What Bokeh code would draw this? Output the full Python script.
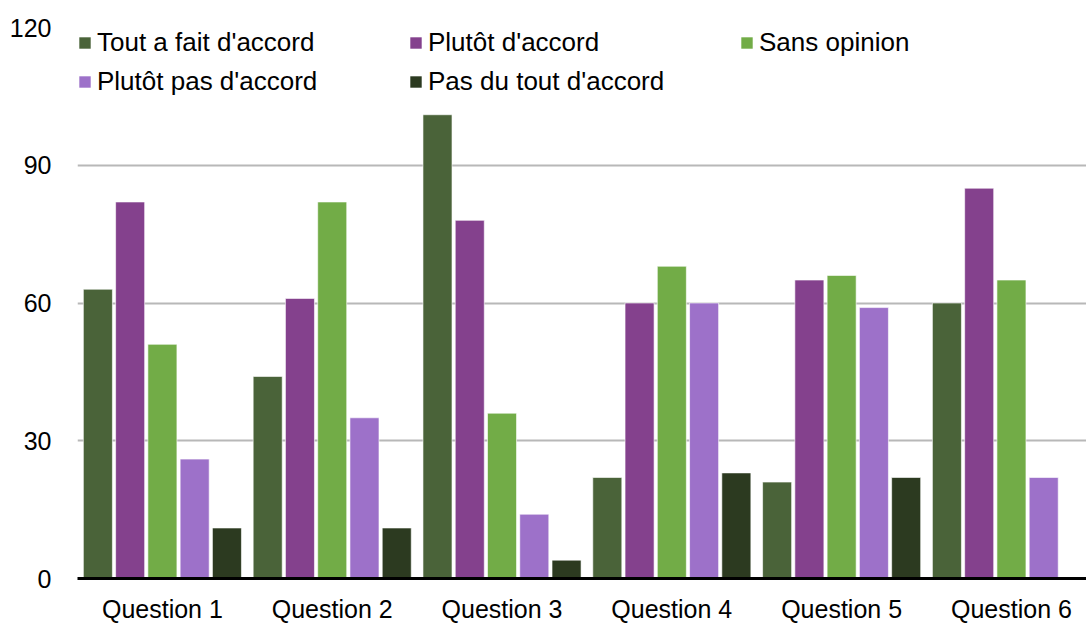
import numpy as np
from bokeh.plotting import figure
from bokeh.models import Legend, LegendItem, ColumnDataSource, FixedTicker, Range1d
from bokeh.embed import file_html
from bokeh.resources import INLINE

questions = ["Question 1", "Question 2", "Question 3", "Question 4", "Question 5", "Question 6"]
series_names = ["Tout a fait d'accord", "Plutôt d'accord", "Sans opinion",
                "Plutôt pas d'accord", "Pas du tout d'accord"]
tout_a_fait = [63, 44, 101, 22, 21, 60]
plutot = [82, 61, 78, 60, 65, 85]
sans_opinion = [51, 82, 36, 68, 66, 65]
plutot_pas = [26, 35, 14, 60, 59, 22]
pas_du_tout = [11, 11, 4, 23, 22, 0]
y_ticks = [0, 30, 60, 90, 120]

colors = ["#4a6339", "#84418d", "#72ac47", "#9d71c9", "#2c3a20"]
FONT = "Liberation Sans"

# category centres on a numeric axis; the last group runs off the right edge
centers = np.arange(len(questions)) + 0.5
src = ColumnDataSource(dict(x=centers, s0=tout_a_fait, s1=plutot, s2=sans_opinion,
                            s3=plutot_pas, s4=pas_du_tout))

p = figure(x_range=Range1d(0, 5.942), y_range=Range1d(0, 120), width=1086, height=626,
           output_backend="svg", toolbar_location=None,
           min_border_left=77, min_border_right=0, min_border_top=27, min_border_bottom=48)
p.outline_line_color = None

step = 0.19
renderers = []
for i, name in enumerate(series_names):
    src.data[f"x{i}"] = centers + (i - 2) * step
    r = p.vbar(x=f"x{i}", top=f"s{i}", width=0.171,
               source=src, fill_color=colors[i], line_color="white", line_alpha=0.6,
               line_width=1)
    renderers.append(r)

p.ygrid.ticker = FixedTicker(ticks=y_ticks)
p.ygrid.grid_line_color = "#b8b8b8"
p.ygrid.grid_line_width = 2
p.xgrid.grid_line_color = None

p.yaxis.ticker = FixedTicker(ticks=y_ticks)
p.yaxis.axis_line_color = None
p.yaxis.major_tick_line_color = None
p.yaxis.major_tick_out = 0
p.yaxis.minor_tick_out = 0
p.yaxis.major_label_standoff = 26
p.yaxis.major_label_text_font = FONT
p.yaxis.major_label_text_font_size = "25px"
p.yaxis.major_label_text_color = "black"

p.xaxis.ticker = FixedTicker(ticks=list(centers))
p.xaxis.major_label_overrides = {float(c): q for c, q in zip(centers, questions)}
p.xaxis.axis_line_color = "black"
p.xaxis.axis_line_width = 3
p.xaxis.major_tick_line_color = None
p.xaxis.major_tick_out = 0
p.xaxis.minor_tick_out = 0
p.xaxis.major_label_standoff = 16
p.xaxis.major_label_text_font = FONT
p.xaxis.major_label_text_font_size = "25px"
p.xaxis.major_label_text_color = "black"

legend = Legend(items=[LegendItem(label=n, renderers=[r]) for n, r in zip(series_names, renderers)],
                location="top_left", orientation="horizontal", ncols=3,
                label_text_font=FONT, label_text_font_size="26px", label_text_color="black",
                glyph_width=15, glyph_height=15, label_standoff=5, label_width=303,
                label_height=29, spacing=8, padding=0, margin=0,
                background_fill_alpha=0, border_line_color=None)
p.add_layout(legend)

open("out.html", "w").write(file_html(p, INLINE))
